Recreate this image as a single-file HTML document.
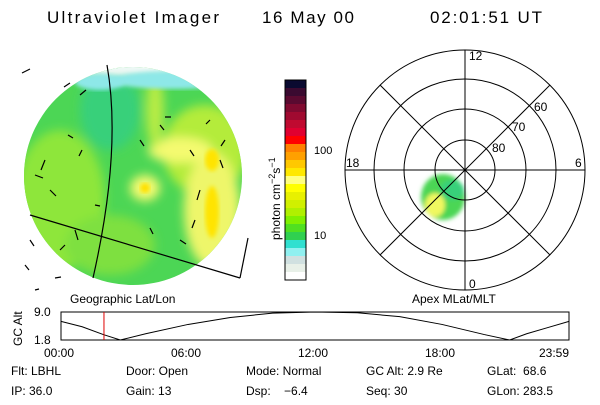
<!DOCTYPE html>
<html><head><meta charset="utf-8"><style>
body{margin:0;background:#fff;width:600px;height:400px;overflow:hidden;font-family:"Liberation Sans",sans-serif}
svg text{font-family:"Liberation Sans",sans-serif;fill:#000}
</style></head><body>
<svg id="s" width="600" height="400" viewBox="0 0 600 400">
<defs>
<clipPath id="disc"><circle cx="133" cy="176" r="109"/></clipPath>
<filter id="bl" x="-50%" y="-50%" width="200%" height="200%"><feGaussianBlur stdDeviation="5"/></filter>
<filter id="bl2"><feGaussianBlur stdDeviation="2"/></filter>
</defs>
<g font-size="17">
<text x="47" y="23" textLength="172">Ultraviolet Imager</text>
<text x="262" y="23" textLength="92">16 May 00</text>
<text x="430" y="23" textLength="112">02:01:51 UT</text>
</g>
<g clip-path="url(#disc)">
<rect x="20" y="60" width="230" height="235" fill="#4cd655"/>
<g filter="url(#bl)">
<ellipse cx="60" cy="200" rx="45" ry="70" fill="#8ee63a"/>
<ellipse cx="110" cy="110" rx="30" ry="40" fill="#38d07a"/>
<ellipse cx="205" cy="150" rx="42" ry="45" fill="#b4ec3a"/>
<ellipse cx="212" cy="210" rx="28" ry="58" fill="#eef66a"/>
<ellipse cx="180" cy="150" rx="32" ry="13" fill="#f4fa70"/>
<ellipse cx="145" cy="188" rx="15" ry="13" fill="#f4fa70"/>
<ellipse cx="155" cy="110" rx="9" ry="38" fill="#b8ec44"/>
<ellipse cx="110" cy="245" rx="45" ry="30" fill="#7ee040"/>
</g>
<ellipse cx="145" cy="188" rx="5" ry="5" fill="#ffe000" filter="url(#bl2)"/>
<ellipse cx="212" cy="212" rx="7" ry="26" fill="#ffe400" filter="url(#bl2)"/>
<ellipse cx="212" cy="160" rx="7" ry="11" fill="#ffe400" filter="url(#bl2)"/>
<ellipse cx="130" cy="58" rx="85" ry="22" fill="#eef8f6" filter="url(#bl)"/>
<ellipse cx="175" cy="80" rx="62" ry="9" fill="#8ee8e8" filter="url(#bl2)"/>
<ellipse cx="100" cy="82" rx="25" ry="8" fill="#8ee8e8" filter="url(#bl2)"/>
</g>
<g fill="none" stroke="#000" stroke-width="1.2">
<path d="M107,65 Q122,150 93,278"/>
<line x1="30" y1="215" x2="240" y2="278"/>
<line x1="240" y1="278" x2="248" y2="238"/>
<path d="M22,73 l8,-4 M70,83 l-6,4 M80,95 l6,-5 M45,160 l-4,10 M35,175 l8,3 M50,190 l6,6 M30,240 l4,6 M60,250 l5,-5 M75,230 l3,10 M140,140 l4,6 M160,125 l4,5 M190,150 l4,6 M200,190 l-3,10 M225,140 l-4,6 M180,240 l6,4 M210,120 l-4,4 M220,160 l3,8 M25,265 l4,5 M55,278 l6,-1 M35,290 l4,-1 M68,135 l5,3 M82,150 l-3,6 M95,205 l5,1 M150,228 l3,6 M195,220 l-3,8 M165,117 l6,0"/>
</g>
<text x="70" y="303" font-size="12">Geographic Lat/Lon</text>
<g id="cbar"></g>
<text transform="translate(280,240) rotate(-90)" font-size="12">photon cm<tspan dy="-5" font-size="9">−2</tspan><tspan dy="5">s</tspan><tspan dy="-5" font-size="9">−1</tspan></text>
<text x="314" y="154" font-size="11">100</text>
<text x="314" y="239" font-size="11">10</text>
<g fill="none" stroke="#000" stroke-width="1">
<g filter="url(#bl2)">
<ellipse cx="443" cy="197" rx="22" ry="23" fill="#4cd655" stroke="none"/>
<ellipse cx="435" cy="205" rx="10" ry="12" fill="#f0f860" stroke="none"/>
<ellipse cx="452" cy="190" rx="12" ry="10" fill="#38d07a" stroke="none"/>
</g>
<circle cx="465" cy="170" r="120"/><circle cx="465" cy="170" r="91"/><circle cx="465" cy="170" r="61"/><circle cx="465" cy="170" r="30"/>
<line x1="345" y1="170" x2="585" y2="170"/><line x1="465" y1="50" x2="465" y2="290"/>
<line x1="380" y1="85" x2="550" y2="255"/><line x1="550" y1="85" x2="380" y2="255"/>
</g>
<g font-size="12">
<text x="469" y="60">12</text><text x="469" y="288">0</text><text x="346" y="167">18</text><text x="575" y="167">6</text>
<text x="534" y="111">60</text><text x="512" y="131">70</text><text x="492" y="152">80</text>
</g>
<text x="412" y="303" font-size="12">Apex MLat/MLT</text>
<g id="alt"></g>
<g font-size="12">
<text x="11" y="375">Flt: LBHL</text><text x="126" y="375">Door: Open</text><text x="246" y="375">Mode: Normal</text><text x="366" y="375">GC Alt: 2.9 Re</text><text x="487" y="375">GLat:&#160;&#160;68.6</text>
<text x="11" y="395">IP: 36.0</text><text x="126" y="395">Gain: 13</text><text x="246" y="395">Dsp:&#160;&#160;&#160;&#160;−6.4</text><text x="366" y="395">Seq: 30</text><text x="487" y="395">GLon: 283.5</text>
</g>
</svg>
<script>
const cbColors=["#0a0a30","#3a0a30","#5a0a30","#800a30","#a00a30","#c00a30","#e00030","#ff0000","#ff8000","#ffa000","#ffc800","#ffe800","#ffff80","#ffff00","#e8f000","#d0f000","#b0f000","#80f000","#50e020","#30d050","#30e0d0","#90f0f0","#d0e0e0","#e8f0e8","#ffffff"];
const hours=[0,1,2,2.8,4,6,8,10,12,14,16,18,20,21.2,22,23,24];
const altRe=[6.6,5.2,3.2,1.8,3.4,5.8,7.6,8.7,9.0,8.8,7.8,5.8,3.2,1.8,3.4,5.0,6.6];
const xTicks=["00:00","06:00","12:00","18:00","23:59"];
const yTicks=[9.0,1.8];
const currentHour=2.03;
const NS="http://www.w3.org/2000/svg";
function mk(t,a,p){const e=document.createElementNS(NS,t);for(const k in a)e.setAttribute(k,a[k]);p.appendChild(e);return e;}
const cb=document.getElementById('cbar');
const cbTop=80,cbH=200,seg=cbH/cbColors.length;
cbColors.forEach((c,i)=>{const r=mk('rect',{x:285,y:cbTop+i*seg,width:21,height:seg+0.5,fill:c},cb);

});
const fr=mk('rect',{x:285,y:cbTop,width:21,height:cbH,fill:'none',stroke:'#000'},cb);


const g=document.getElementById('alt');
const X0=61,X1=569,Y0=312,Y1=340;
const xs=h=>X0+(h/24)*(X1-X0);
const ys=v=>Y1-(v-1.8)/(9.0-1.8)*(Y1-Y0);
const fr2=mk('rect',{x:X0,y:Y0,width:X1-X0,height:Y1-Y0,fill:'none',stroke:'#000'},g);


const ln=mk('polyline',{points:hours.map((h,i)=>xs(h)+','+ys(altRe[i])).join(' '),fill:'none',stroke:'#000'},g);


const cur=mk('line',{x1:xs(currentHour),x2:xs(currentHour),y1:Y0,y2:Y1,stroke:'#e00000'},g);


yTicks.forEach(v=>{const t=mk('text',{x:34,y:ys(v)+4,'font-size':12},g);t.textContent=v.toFixed(1);

});
const yl=mk('text',{transform:'translate(22,346) rotate(-90)','font-size':12},g);yl.textContent='GC Alt';


xTicks.forEach((s,i)=>{const h=i*6>24?24:i*6;const t=mk('text',{x:xs(Math.min(h,24))-(i==4?30:17),y:357,'font-size':12},g);t.textContent=s;

});
</script>
</body></html>
